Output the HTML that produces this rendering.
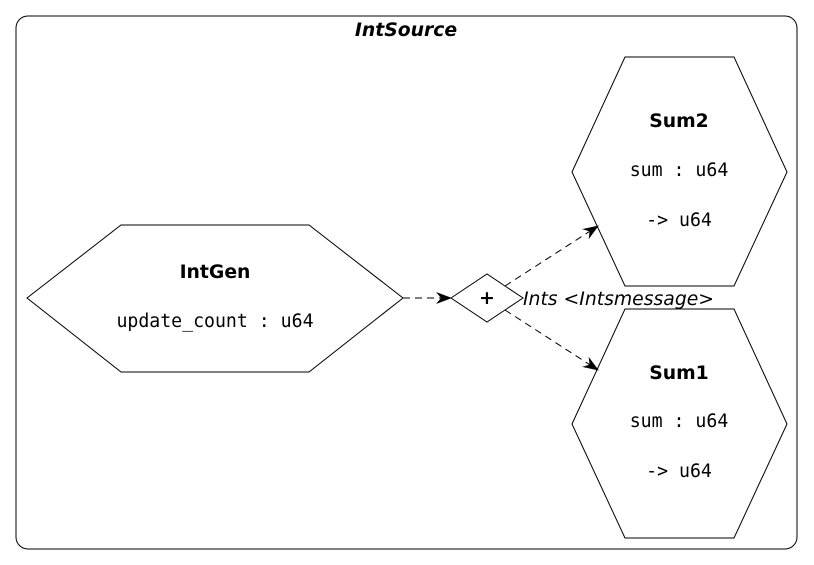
<!DOCTYPE html>
<html><head><style>body{margin:0;background:#fff}svg{display:block}</style></head><body>
<svg width="814" height="565" viewBox="0 0 814 565" xmlns="http://www.w3.org/2000/svg" font-family="DejaVu Sans, Liberation Sans, sans-serif">
<defs><marker id="a" viewBox="0 0 16 12" refX="15" refY="6" markerWidth="16" markerHeight="12" markerUnits="userSpaceOnUse" orient="auto"><path d="M0,0 L16,6 L0,12 L5,6 Z" fill="#000"/></marker></defs>
<rect x="16" y="16" width="781" height="533" rx="12" fill="#fff" stroke="#000"/>
<text x="406" y="36" text-anchor="middle" font-weight="bold" font-style="italic" font-size="18.8">IntSource</text>
<polygon points="27,298 121,225 309,225 403,298 309,372 121,372" fill="#fff" stroke="#000"/>
<text x="215" y="278" text-anchor="middle" font-weight="bold" font-size="18.8">IntGen</text>
<text x="215" y="327" text-anchor="middle" font-family="DejaVu Sans Mono, Liberation Mono, monospace" font-size="18.2">update_count : u64</text>
<polygon points="572,172 625,57 734,57 787,172 734,286 625,286" fill="#fff" stroke="#000"/>
<text x="679" y="127" text-anchor="middle" font-weight="bold" font-size="18.8">Sum2</text>
<text x="679" y="176" text-anchor="middle" font-family="DejaVu Sans Mono, Liberation Mono, monospace" font-size="18.2">sum : u64</text>
<text x="679" y="226" text-anchor="middle" font-family="DejaVu Sans Mono, Liberation Mono, monospace" font-size="18.2">-&gt; u64</text>
<polygon points="572,424 625,309 734,309 787,424 734,538 625,538" fill="#fff" stroke="#000"/>
<text x="679" y="379" text-anchor="middle" font-weight="bold" font-size="18.8">Sum1</text>
<text x="679" y="427" text-anchor="middle" font-family="DejaVu Sans Mono, Liberation Mono, monospace" font-size="18.2">sum : u64</text>
<text x="679" y="477" text-anchor="middle" font-family="DejaVu Sans Mono, Liberation Mono, monospace" font-size="18.2">-&gt; u64</text>
<polygon points="451,298 487,274 523,298 487,322" fill="#fff" stroke="#000"/>
<text x="487" y="304" text-anchor="middle" font-weight="bold" font-size="19">+</text>
<g stroke="#000" stroke-dasharray="7,5" fill="none">
<line x1="403" y1="298" x2="451" y2="298" marker-end="url(#a)"/>
<line x1="505" y1="286" x2="598" y2="226" marker-end="url(#a)"/>
<line x1="505" y1="310" x2="598" y2="370" marker-end="url(#a)"/>
</g>
<text x="523" y="305" font-style="italic" font-size="18.8">Ints &lt;Intsmessage&gt;</text>
</svg>
</body></html>
